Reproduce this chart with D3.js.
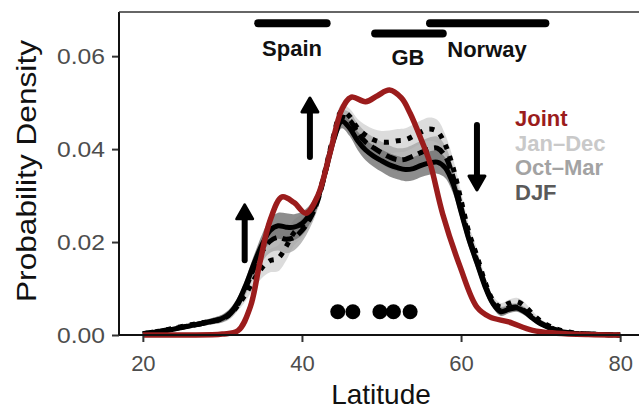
<!DOCTYPE html>
<html><head><meta charset="utf-8">
<script src="https://cdn.jsdelivr.net/npm/d3@7"></script>
<style>body{margin:0;background:#fff}svg{display:block}</style>
</head><body>
<svg id="c" width="639" height="411"></svg>
<script>
const lat = [20,22,24,26,28,30,31,32,33,34,35,36,37,38,39,40,41,42,43,44,45,46,47,48,49,50,51,52,53,54,55,56,57,58,59,60,61,62,63,64,65,66,67,68,69,70,72,74,76,78,80];
const janDec = [0.0003,0.0008,0.0015,0.0022,0.0028,0.0035,0.0045,0.0065,0.009,0.012,0.0145,0.016,0.0165,0.019,0.022,0.0235,0.0255,0.0295,0.036,0.043,0.0482,0.047,0.0445,0.043,0.042,0.0415,0.0415,0.0418,0.042,0.0428,0.0437,0.0443,0.0438,0.041,0.036,0.029,0.022,0.017,0.0115,0.0075,0.006,0.0068,0.0072,0.0062,0.0045,0.003,0.0013,0.0005,0.0002,0.0001,0];
const octMar = [0.0003,0.0008,0.0014,0.002,0.0027,0.0035,0.0046,0.0068,0.0105,0.0145,0.018,0.0202,0.021,0.0206,0.021,0.0225,0.025,0.029,0.0355,0.0425,0.0468,0.0462,0.0435,0.0415,0.0403,0.0392,0.0383,0.0377,0.0378,0.0385,0.0393,0.04,0.0402,0.0385,0.034,0.0275,0.021,0.016,0.011,0.007,0.0052,0.0058,0.006,0.0052,0.0038,0.0026,0.0011,0.0004,0.0002,0.0001,0];
const djf = [0.0002,0.0007,0.0013,0.002,0.0027,0.0036,0.0048,0.0072,0.011,0.0155,0.0195,0.0225,0.0235,0.0232,0.0232,0.024,0.026,0.0295,0.0355,0.042,0.046,0.0445,0.0418,0.0398,0.0385,0.0375,0.0366,0.036,0.0356,0.0358,0.0365,0.037,0.0372,0.036,0.0325,0.0265,0.0205,0.0155,0.0105,0.0068,0.005,0.0055,0.0058,0.005,0.0036,0.0024,0.001,0.0004,0.0002,0.0001,0];
const bandHalf = [0.0002,0.0003,0.0004,0.0005,0.0006,0.0008,0.001,0.0012,0.0015,0.0018,0.0022,0.0025,0.0028,0.003,0.0028,0.0025,0.002,0.0018,0.0015,0.0015,0.0015,0.0017,0.002,0.0022,0.0023,0.0024,0.0025,0.0025,0.0025,0.0025,0.0025,0.0025,0.0025,0.0022,0.002,0.0018,0.0016,0.0015,0.0012,0.001,0.0009,0.0008,0.0008,0.0008,0.0006,0.0005,0.0003,0.0002,0.0001,0.0001,0];
const jointLat = [20,25,30,32,33.5,34.7,36,37.5,39,40.5,42,43.5,45,46.2,48,49.5,51,52.5,53.6,55,56.1,57.7,59.9,62,63.6,66,69,72,76,80];
const joint = [0,0,0.0002,0.001,0.006,0.0155,0.0247,0.0297,0.0285,0.0262,0.030,0.039,0.0485,0.0512,0.0502,0.0515,0.0527,0.051,0.0477,0.042,0.037,0.026,0.0146,0.006,0.0039,0.0028,0.001,0.0004,0.0001,0];
const xTicks = [20,40,60,80];
const yTicks = [0,0.02,0.04,0.06];
const countries = ["Spain","GB","Norway"];
const countryStart = [34.5,49.2,56.1];
const countryEnd = [43.1,57.7,70.6];
const countryLevel = [0.0671,0.0649,0.0671];
const dotsLat = [44.5,46.4,49.8,51.5,53.6];
const dotsVal = [0.005,0.005,0.005,0.005,0.005];
const arrowLat = [32.8,41.0,62.0];
const arrowFrom = [0.0161,0.0383,0.0452];
const arrowTo = [0.028,0.051,0.0312];
const legendLabels = ["Joint","Jan\u2013Dec","Oct\u2013Mar","DJF"];
const legendColors = ["#9b1c1c","#c9c9c9","#a3a3a3","#5a5a5a"];

const FONT = "Liberation Sans, Arial, Helvetica, sans-serif";
const svg = d3.select("#c");
const x = d3.scaleLinear().domain([17,83]).range([119,644]);
const y = d3.scaleLinear().domain([0,0.0695]).range([335,12]);

const seriesList = [
  {v: janDec, fill:"#d3d3d3", dash:"5,7"},
  {v: octMar, fill:"#a8a8a8", dash:"11,6"},
  {v: djf, fill:"#707070", dash:null}
];
const area = (vals) => d3.area().curve(d3.curveCatmullRom)
  .x((d,i)=>x(lat[i])).y0((d,i)=>y(Math.max(0,vals[i]-bandHalf[i]))).y1((d,i)=>y(vals[i]+bandHalf[i]));
seriesList.forEach(s=>{
  svg.append("path").datum(s.v).attr("d", area(s.v)).attr("fill", s.fill).attr("opacity",0.8);
});
const line = d3.line().curve(d3.curveCatmullRom).x((d,i)=>x(lat[i])).y(d=>y(d));
seriesList.slice().reverse().forEach(s=>{
  const p = svg.append("path").datum(s.v).attr("d", line).attr("fill","none")
    .attr("stroke","#000").attr("stroke-width",5);
  if (s.dash) p.attr("stroke-dasharray", s.dash);
});

svg.append("path").datum(joint)
  .attr("d", d3.line().curve(d3.curveCatmullRom).x((d,i)=>x(jointLat[i])).y(d=>y(d)))
  .attr("fill","none").attr("stroke","#9b1c1c").attr("stroke-width",5.5).attr("stroke-linejoin","round");

svg.selectAll("circle.dot").data(dotsLat).enter().append("circle")
  .attr("cx",d=>x(d)).attr("cy",(d,i)=>y(dotsVal[i])).attr("r",7.5).attr("fill","#000");

arrowLat.forEach((a,i)=>{
  const x0 = x(a), y0 = y(arrowFrom[i]), y1 = y(arrowTo[i]);
  const dir = y1 < y0 ? -1 : 1;
  const headLen = 14, headW = 8;
  svg.append("line").attr("x1",x0).attr("x2",x0).attr("y1",y0).attr("y2",y1 - dir*headLen*0.6)
    .attr("stroke","#000").attr("stroke-width",6).attr("stroke-linecap","round");
  svg.append("path").attr("d",`M${x0},${y1} L${x0-headW},${y1-dir*headLen} L${x0+headW},${y1-dir*headLen} Z`)
    .attr("fill","#000").attr("stroke","#000").attr("stroke-width",3).attr("stroke-linejoin","round");
});

countries.forEach((c,i)=>{
  svg.append("line").attr("x1",x(countryStart[i])).attr("x2",x(countryEnd[i]))
    .attr("y1",y(countryLevel[i])).attr("y2",y(countryLevel[i]))
    .attr("stroke","#000").attr("stroke-width",8).attr("stroke-linecap","round");
});
const labelPos = [[292,56],[408,65],[487,57]];
countries.forEach((c,i)=>{
  svg.append("text").attr("x",labelPos[i][0]).attr("y",labelPos[i][1]).attr("text-anchor","middle")
    .attr("font-family",FONT).attr("font-weight","bold").attr("font-size",22)
    .attr("fill","#111").text(c);
});

legendLabels.forEach((l,i)=>{
  svg.append("text").attr("x",515).attr("y",126+i*24.5).attr("font-family",FONT)
    .attr("font-weight","bold").attr("font-size",22).attr("fill",legendColors[i]).text(l);
});

const ax = svg.append("g").attr("transform","translate(0,335)")
  .call(d3.axisBottom(x).tickValues(xTicks).tickSize(7).tickPadding(13).tickFormat(d3.format("d")));
const ay = svg.append("g").attr("transform","translate(119,0)")
  .call(d3.axisLeft(y).tickValues(yTicks).tickSize(7).tickPadding(7).tickFormat(d3.format(".2f")));
[ax,ay].forEach(g=>{
  g.select(".domain").remove();
  g.selectAll(".tick line").attr("stroke","#333").attr("stroke-width",2);
  g.selectAll(".tick text").attr("font-family",FONT).attr("font-size",22).attr("fill","#4d4d4d");
});
ay.selectAll(".tick text").attr("textLength",48).attr("lengthAdjust","spacingAndGlyphs");
svg.append("line").attr("x1",119).attr("x2",639).attr("y1",335).attr("y2",335).attr("stroke","#111").attr("stroke-width",2);
svg.append("line").attr("x1",119).attr("x2",119).attr("y1",12).attr("y2",335).attr("stroke","#111").attr("stroke-width",2);
svg.append("line").attr("x1",119).attr("x2",639).attr("y1",12).attr("y2",12).attr("stroke","#333").attr("stroke-width",1.5);

svg.append("text").attr("x",381).attr("y",404).attr("text-anchor","middle")
  .attr("font-family",FONT).attr("font-size",28).attr("fill","#111").text("Latitude");
svg.append("text").attr("transform","translate(36,171) rotate(-90)").attr("text-anchor","middle")
  .attr("font-family",FONT).attr("font-size",27).attr("textLength",262).attr("lengthAdjust","spacingAndGlyphs")
  .attr("fill","#111").text("Probability Density");
</script>
</body></html>
